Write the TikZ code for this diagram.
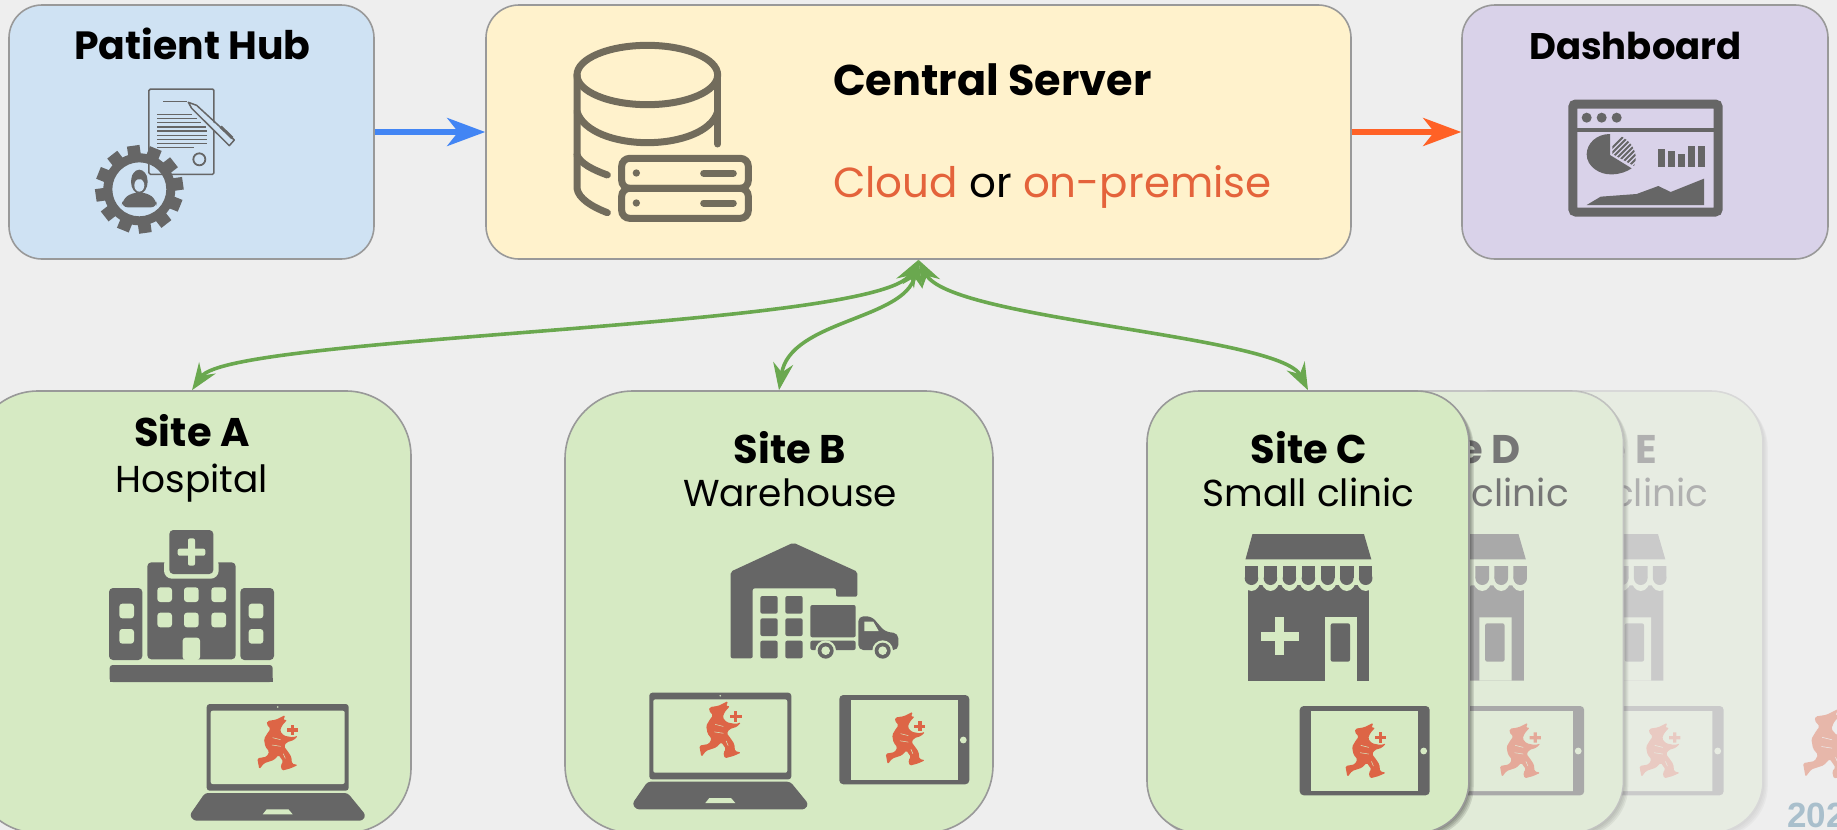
\documentclass[tikz,border=0pt]{standalone}
\usepackage{fontspec}
\setmainfont{Poppins}
\newfontfamily\digitfont{Liberation Sans}
\usetikzlibrary{arrows.meta}
\definecolor{bgc}{HTML}{EEEEEE}
\definecolor{hubc}{HTML}{CFE2F3}
\definecolor{srvc}{HTML}{FFF2CC}
\definecolor{dashc}{HTML}{D9D2E9}
\definecolor{sitec}{HTML}{D6EAC3}
\definecolor{edgec}{HTML}{999999}
\definecolor{icong}{HTML}{666666}
\definecolor{dbg}{HTML}{726C5C}
\definecolor{linkg}{HTML}{6AA84F}
\definecolor{linkb}{HTML}{4285F4}
\definecolor{linko}{HTML}{FF6126}
\definecolor{accent}{HTML}{E4633B}
\definecolor{runc}{HTML}{DD6546}
\definecolor{yearc}{HTML}{A9BFCC}
\tikzset{
  cardbox/.style={draw=edgec,line width=1.6pt,inner sep=0pt,rounded corners=33pt},
  sitebox/.style={draw=edgec,line width=1.6pt,inner sep=0pt,fill=sitec},
  label/.style={anchor=base,inner sep=0pt,text=black},
  greenlink/.style={draw=linkg,line width=3.6pt,{Stealth[length=27pt,width=20pt,inset=9pt]}-{Stealth[length=27pt,width=20pt,inset=9pt]}},
  flowlink/.style={line width=5.5pt},
  ico/.style={fill=icong,draw=none},
}
\newcommand{\FS}[1]{\fontsize{#1pt}{#1pt}\selectfont}
% running figure: coordinates in 3x crop units
\newcommand{\Runner}[3]{%
 \begin{scope}[shift={(#1,#2)},scale=#3/3,shift={(-22,-30)}]
  \fill[runc,rounded corners=1.5pt] (52,48)--(78,44)--(106,30)--(100,46)--(112,44)--(96,62)--(90,78)--(102,92)--(128,97)--(144,92)--(132,105)--(110,112)--(102,124)--(114,140)--(124,155)--(126,176)--(144,180)--(122,190)--(96,197)--(92,180)--(100,170)--(86,150)--(72,165)--(42,175)--(28,193)--(22,160)--(50,155)--(58,140)--(46,125)--(42,102)--(54,82)--(62,72)--(50,58)--cycle;
  \fill[runc] (123,59) rectangle (133,90);
  \fill[runc] (111,70) rectangle (145,80);
  \draw[sitec,line width=.5pt] (68,98)--(92,104) (66,120)--(92,124) (100,146)--(106,160);
 \end{scope}}
\newcommand{\Laptop}[2]{%
 \begin{scope}[shift={(#1,#2)}]
  \fill[icong,rounded corners=3pt] (0,0) rectangle (142,86.7);
  \fill[sitec,rounded corners=2pt] (4,6.7) rectangle (138,80);
  \fill[sitec] (71,3) circle (.9);
  \fill[icong,rounded corners=3pt] (-1.7,89) -- (141,89) -- (159,111) -- (156,116.7) -- (-13,116.7) -- (-17,111) -- cycle;
  \fill[sitec] (60,105.3) -- (81.7,105.3) -- (86,110.3) -- (56,110.3) -- cycle;
 \end{scope}}
\newcommand{\Tablet}[2]{%
 \begin{scope}[shift={(#1,#2)}]
  \fill[icong,rounded corners=4pt] (0,0) rectangle (130,89.3);
  \fill[sitec] (11.7,5) rectangle (118.7,85);
  \fill[sitec] (124,45) circle (3.4);
 \end{scope}}
\newcommand{\Store}{%
 \begin{scope}[shift={(1230,520)},xscale=1/2.583,yscale=1/3]
  \fill[icong] (58,42)--(346,42)--(365,118)--(40,118)--cycle;
  \fill[icong] (46,196) rectangle (360,482);
  \foreach \sx in {38,87,136,185,235,284,333}{
    \fill[sitec] (\sx+17.5,175) ellipse [x radius=24.5,y radius=38];}
  \foreach \sx in {38,87,136,185,235,284,333}{
    \fill[icong] (\sx,138) rectangle (\sx+35,175);
    \fill[icong] (\sx+17.5,175) ellipse [x radius=17.5,y radius=20];}
  \fill[sitec] (116,292) rectangle (140,405);
  \fill[sitec] (80,335) rectangle (178,362);
  \fill[sitec] (245,292) rectangle (328,482);
  \fill[icong,rounded corners=2pt] (260,310) rectangle (310,425);
 \end{scope}}
% site C and its two faded copies
\newcommand{\SmallSite}[3]{%
 \begin{scope}[shift={(#3,0)}]
  \foreach \off in {1.2,2.4,3.6,4.8}{
    \fill[black,opacity=.11,rounded corners=52pt] (1147+\off,391+\off) rectangle (1469+\off,833+\off);}
  \node[sitebox,rounded corners=52pt,minimum width=322pt,minimum height=442pt] (site#1) at (1308,612) {};
  \node[label] (title#1) at (1309,463) {\bfseries\FS{40}Site #2};
  \node[label] (kind#1) at (1308.5,506) {\FS{37.5}Small clinic};
  \Store
  \Tablet{1299.7}{706}
  \Runner{1345.4}{722.7}{1}
 \end{scope}}
\begin{document}
\begin{tikzpicture}[x=1pt,y=-1pt]
\fill[bgc] (0,0) rectangle (1837,831);
\begin{scope}
\clip (0,0) rectangle (1837,831);
% top cards
\node[cardbox,fill=hubc,minimum width=365pt,minimum height=254pt] (hub) at (191.5,132) {};
\node[cardbox,fill=srvc,minimum width=865pt,minimum height=254pt] (central) at (918.5,132) {};
\node[cardbox,fill=dashc,minimum width=366pt,minimum height=254pt] (dash) at (1645,132) {};
\node[label] (hubt) at (192.5,59) {\bfseries\FS{39.4}Patient Hub};
\node[label,anchor=base west] (srvt) at (833,95) {\bfseries\FS{43}Central Server};
\node[label,anchor=base west] (srvs) at (833,197) {\FS{42}\textcolor{accent}{Cloud} or \textcolor{accent}{on-premise}};
\node[label] (dasht) at (1635.5,59) {\bfseries\FS{37}Dashboard};
% patient hub icon
\begin{scope}[scale=1/3]
 \draw[icong,line width=1.5pt,rounded corners=1.5pt] (447,267) rectangle (642,523);
 \draw[icong,line width=1.4pt] (490,305)--(562,305);
 \foreach \ly/\lx in {343/577,356/590,368/603,381/618,393/620,406/620,418/620,431/620,443/582}{
   \draw[icong,line width=1.5pt] (472,\ly)--(\lx,\ly);}
 \draw[icong,line width=1.8pt] (598,478) circle (18);
 \fill[hubc] (572,310)--(703,420)--(688,437)--(570,325)--cycle;
 \draw[icong,line width=1.5pt,line join=round] (565,307)--(590,316)--(703,420)--(688,437)--(575,325)--cycle;
 \draw[icong,line width=3pt] (662,380)--(697,414);
 \foreach \ang in {8,38,...,338}{
   \fill[icong,rotate around={\ang:(418,568)}] (399,436) rectangle (437,475);}
 \fill[icong,even odd rule] (418,568) circle (108) (418,568) circle (81);
 \fill[icong] (418,545) ellipse [x radius=25,y radius=36];
 \fill[icong,rounded corners=6pt] (365,622)--(367,600)--(395,578)--(441,578)--(469,600)--(471,622)--cycle;
 \fill[hubc] (418,556) ellipse [x radius=15,y radius=19];
 \fill[icong] (418,528) ellipse [x radius=22,y radius=10];
\end{scope}
% database icon
\begin{scope}[shift={(520,20)},scale=1/3]
 \begin{scope}[draw=dbg,line width=7pt,line cap=round]
  \draw (382,165) ellipse [x radius=211,y radius=89];
  \draw (171,165) -- (171,505) .. controls (175,535) and (215,560) .. (262,578);
  \draw (593,165) -- (593,372);
  \draw (171,275) .. controls (190,335) and (285,368) .. (382,368) .. controls (480,368) and (575,335) .. (593,275);
  \draw (171,405) .. controls (180,430) and (220,450) .. (262,465);
  \draw[rounded corners=8pt] (305,415) rectangle (685,505);
  \draw[rounded corners=8pt] (305,505) rectangle (685,595);
  \draw (551,460)--(640,460);
  \draw (551,549)--(640,549);
 \end{scope}
 \fill[dbg] (349,459) circle (11);
 \fill[dbg] (349,549) circle (11);
\end{scope}
% dashboard icon
\begin{scope}[shift={(1480,60)},scale=1/3]
 \draw[icong,line width=9pt,rounded corners=3pt] (278.5,132) rectangle (714.5,456);
 \fill[icong] (278,203) rectangle (714,217);
 \fill[icong] (320,173) circle (15);
 \fill[icong] (365,173) circle (15);
 \fill[icong] (410,173) circle (15);
 \fill[icong] (390,222) .. controls (350,222) and (320,250) .. (320,283) .. controls (320,320) and (360,345) .. (395,343) .. controls (420,343) and (440,335) .. (455,325) -- (390,285) -- cycle;
 \begin{scope}
  \clip (397,222) .. controls (440,225) and (482,270) .. (462,318) -- (397,282) -- cycle;
  \foreach \hx in {320,335,...,560}{\draw[icong,line width=1.9pt] (\hx,340)--(\hx+130,210);}
 \end{scope}
 \foreach \bx/\by in {535/268,565/273,595/281,625/259,655/259}{
   \fill[icong] (\bx,\by) rectangle (\bx+20,320);}
 \fill[icong] (320,435)--(362,410)--(470,402)--(535,378)--(572,396)--(672,356)--(672,435)--cycle;
\end{scope}
% flow arrows
\draw[flowlink,draw=linkb,-{Stealth[length=38pt,width=28pt,inset=11pt,fill=linkb]}] (hub.east) -- (central.west);
\draw[flowlink,draw=linko,-{Stealth[length=38pt,width=28pt,inset=11pt,fill=linko]}] (central.east) -- (dash.west);
% site E, D
\begin{scope}[transparency group,opacity=.26]
 \SmallSite{E}{E}{294}
\end{scope}
\fill[bgc,rounded corners=52pt] (1301.5,391) rectangle (1623.5,833);
\begin{scope}[transparency group,opacity=.5]
 \SmallSite{D}{D}{154.5}
\end{scope}
% site C
\SmallSite{C}{C}{0}
% site A
\node[sitebox,rounded corners=65pt,minimum width=438pt,minimum height=442pt] (siteA) at (192,612) {};
\node[label] (titleA) at (192,446) {\bfseries\FS{40}Site A};
\node[label] (kindA) at (192,492) {\FS{37.5}Hospital};
\begin{scope}[shift={(80,500)},scale=1/3]
 \fill[icong,rounded corners=4pt] (87,480)--(87,264)--(187,264)--(187,480)--cycle;
 \fill[icong,rounded corners=4pt] (481,480)--(481,264)--(582,264)--(582,480)--cycle;
 \fill[icong,rounded corners=4pt] (202,478)--(202,187)--(467,187)--(467,478)--cycle;
 \fill[sitec,rounded corners=8pt] (252,170) rectangle (416,236);
 \fill[icong,rounded corners=4pt] (268,90) rectangle (400,222);
 \fill[sitec,rounded corners=2pt] (324,115) rectangle (345,197);
 \fill[sitec,rounded corners=2pt] (293,146) rectangle (376,167);
 \foreach \wx in {232,312,394}{\foreach \wy in {262,338}{
   \fill[sitec,rounded corners=3pt] (\wx,\wy) rectangle (\wx+44,\wy+44);}}
 \foreach \wx in {118,506}{\foreach \wy in {311,387}{
   \fill[sitec,rounded corners=3pt] (\wx,\wy) rectangle (\wx+44,\wy+44);}}
 \fill[sitec,rounded corners=3pt] (308,480)--(308,413)--(360,413)--(360,480)--cycle;
 \fill[icong,rounded corners=3pt] (89,546)--(89,495)--(578,495)--(578,546)--cycle;
 \fill[icong] (89,535) rectangle (578,546);
\end{scope}
\Laptop{206.7}{704}
\Runner{257.3}{715}{1}
% site B
\node[sitebox,rounded corners=68pt,minimum width=428pt,minimum height=442pt] (siteB) at (779,612) {};
\node[label] (titleB) at (790,463) {\bfseries\FS{40}Site B};
\node[label] (kindB) at (790,506) {\FS{37.5}Warehouse};
\begin{scope}[shift={(620,520)},scale=1/3]
 \fill[icong,rounded corners=2pt] (332,155)--(520,68)--(712,155)--(712,230)--(648,230)--(648,205)--(398,205)--(398,415)--(332,415)--cycle;
 \foreach \wx in {421,496}{\foreach \wy in {228,295,362}{
   \fill[icong,rounded corners=2pt] (\wx,\wy) rectangle (\wx+52,\wy+53);}}
 \fill[icong,rounded corners=2pt] (571,255) rectangle (707,352);
 \fill[icong,rounded corners=2pt] (571,362) rectangle (707,390);
 \fill[icong,rounded corners=5pt] (715,390)--(715,289)--(755,289)--(795,335)--(835,340)--(835,390)--cycle;
 \fill[sitec] (733,305)--(760,305)--(776,333)--(733,333)--cycle;
 \foreach \wcx in {617,788}{
   \fill[sitec] (\wcx,392) circle (31);
   \fill[icong] (\wcx,392) circle (24);
   \fill[sitec] (\wcx,392) circle (13);}
\end{scope}
\Laptop{649.3}{692.7}
\Runner{699.3}{701}{1.03}
\Tablet{839.3}{695}
\Runner{885.7}{711.7}{.97}
% far right remnants
\begin{scope}[opacity=.4]
 \begin{scope}[transparency group]
  \colorlet{sitec}{bgc}
  \Runner{1803}{709}{1.25}
 \end{scope}
\end{scope}
\node[label,anchor=base west,text=yearc] (year) at (1787,827) {\digitfont\bfseries\FS{35}202};
% links
\draw[greenlink] (central.south) .. controls (880,328) and (230,335) .. (siteA.north);
\draw[greenlink] (central.south) .. controls (905,320) and (790,320) .. (siteB.north);
\draw[greenlink] (central.south) .. controls (950,320) and (1280,335) .. (siteC.north);
\end{scope}
\pgfresetboundingbox
\path[use as bounding box] (0,0) rectangle (1837,830);
\end{tikzpicture}
\end{document}
